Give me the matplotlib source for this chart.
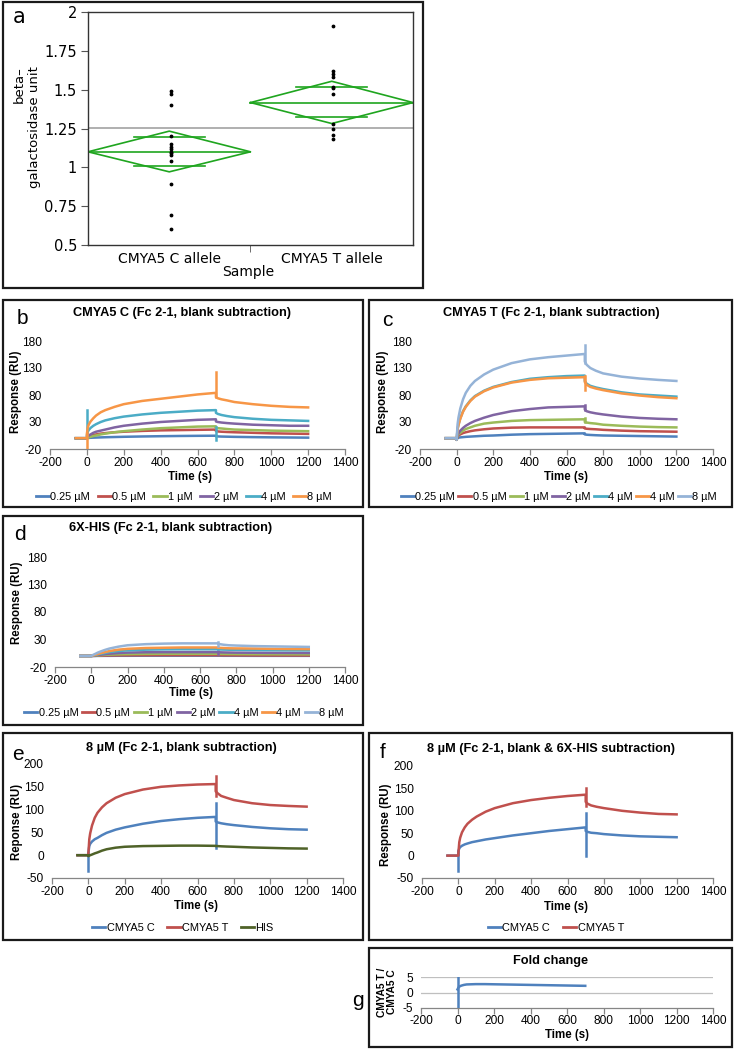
import matplotlib.pyplot as plt
from matplotlib.patches import Rectangle
from matplotlib.lines import Line2D

plt.rcParams['font.family'] = ['Liberation Sans', 'DejaVu Sans']
plt.rcParams['axes.unicode_minus'] = False

W, H = 734, 1050
fig = plt.figure(figsize=(W / 100, H / 100), dpi=100)

# ---------------- data: panel a (beta-galactosidase) ----------------
cats_a = ['CMYA5 C allele', 'CMYA5 T allele']
pts_c = [1.49, 1.47, 1.40, 1.20, 1.15, 1.13, 1.12, 1.10, 1.09, 1.08, 1.04, 0.89, 0.69, 0.60]
pts_t = [1.91, 1.62, 1.60, 1.58, 1.52, 1.51, 1.47, 1.28, 1.25, 1.21, 1.18]
means_a = [1.100, 1.417]
ci_hi_a = [1.233, 1.554]
ci_lo_a = [0.971, 1.282]
ovl_hi_a = [1.196, 1.514]
ovl_lo_a = [1.010, 1.325]
grand_mean = 1.254
yticks_a = [0.5, 0.75, 1, 1.25, 1.5, 1.75, 2]
yticklabels_a = ['0.5', '0.75', '1', '1.25', '1.5', '1.75', '2']

# ---------------- data: sensorgrams ----------------
t_base = [-60, 0]
t_on = [0, 5, 10, 20, 35, 50, 75, 100, 150, 200, 300, 400, 500, 600, 700]
t_off = [700, 710, 730, 760, 800, 900, 1000, 1100, 1200]
xticks_spr = [-200, 0, 200, 400, 600, 800, 1000, 1200, 1400]

# panel b: CMYA5 C
b_labels = ['0.25 µM', '0.5 µM', '1 µM', '2 µM', '4 µM', '8 µM']
b_colors = ['#4F81BD', '#C0504D', '#9BBB59', '#8064A2', '#4BACC6', '#F79646']
b_on = [
    [0, 0.3, 0.5, 0.8, 1, 1.2, 1.5, 1.8, 2.2, 2.6, 3.2, 3.7, 4.1, 4.4, 4.6],
    [0, 2, 3, 4.5, 6, 7, 8.5, 9.5, 11, 12, 13.5, 14.5, 15, 15.5, 16],
    [0, 1, 1.5, 2.5, 4, 5, 7, 8.5, 11, 13, 16, 18.5, 20, 21.5, 22],
    [0, 3, 5, 7, 10, 12, 14, 16, 20, 23, 27, 30, 32, 34, 35],
    [5, 12, 15, 19, 23, 26, 30, 33, 37, 40, 44, 47, 49, 51, 52],
    [8, 20, 25, 31, 37, 42, 48, 52, 58, 63, 69, 73, 77, 81, 84],
]
b_off = [
    [3.5, 3.3, 3, 2.8, 2.5, 2, 1.6, 1.3, 1],
    [13, 12.5, 12, 11.5, 11, 10, 9, 8.5, 8],
    [19, 18.5, 18, 17, 16, 15, 14, 13.5, 13],
    [31, 30, 29, 28, 27, 25, 24, 23, 23],
    [47, 45, 43, 41, 39, 36, 34, 33, 32],
    [76, 74, 72, 70, 67, 63, 60, 58, 57],
]
b_spikes = [(4, 0, 5, 53), (4, 700, -3, 20), (5, 0, -20, 10), (5, 700, 76, 123)]

# panel c: CMYA5 T
c_labels = ['0.25 µM', '0.5 µM', '1 µM', '2 µM', '4 µM', '4 µM', '8 µM']
c_colors = ['#4F81BD', '#C0504D', '#9BBB59', '#8064A2', '#4BACC6', '#F79646', '#95B3D7']
c_on = [
    [-3, 0.5, 1, 1.5, 2, 2.5, 3, 3.5, 4.5, 5, 6.5, 7.5, 8, 8.5, 9],
    [-3, 3, 5, 7, 9.5, 11, 13, 14.5, 16.5, 18, 19.5, 20, 20, 20, 20],
    [-3, 4, 7, 10, 14, 17, 20, 23, 27, 29, 32, 33.5, 34, 34.5, 35],
    [-3, 6, 9, 14, 19, 23, 28, 32, 38, 43, 50, 54, 57, 58, 59],
    [-3, 17, 25, 37, 50, 59, 70, 78, 88, 95, 104, 110, 113, 115, 116],
    [-3, 16, 24, 36, 49, 58, 69, 77, 87, 94, 103, 108, 111, 112, 113],
    [-3, 25, 38, 55, 72, 84, 97, 106, 118, 127, 139, 146, 150, 153, 156],
]
c_off = [
    [7, 6.5, 6, 5.5, 5, 4.5, 4, 3.5, 3],
    [18, 17.5, 17, 16.5, 15.5, 14, 13, 12.5, 12],
    [30, 29, 28, 27, 25, 23, 21.5, 20.5, 20],
    [53, 50, 48, 46, 44, 40, 37.5, 36, 35],
    [106, 101, 97, 94, 91, 85, 81, 79, 77],
    [104, 99, 95, 92, 89, 83, 79, 76, 74],
    [142, 136, 130, 125, 120, 114, 110.5, 108, 106],
]
c_spikes = [(3, 700, 53, 62), (2, 700, 30, 38), (5, 700, 90, 116), (6, 700, 140, 173)]

# panel d: 6X-HIS
d_labels = c_labels
d_colors = c_colors
d_on = [
    [0, 0, 0.1, 0.1, 0.2, 0.2, 0.3, 0.3, 0.4, 0.4, 0.5, 0.5, 0.5, 0.5, 0.5],
    [0, 0.1, 0.2, 0.3, 0.5, 0.6, 0.8, 1, 1.2, 1.3, 1.4, 1.5, 1.5, 1.5, 1.5],
    [0, 0.2, 0.3, 0.6, 1, 1.4, 2, 2.5, 3, 3.4, 3.8, 4, 4, 4, 4],
    [0, 0.3, 0.5, 1, 1.6, 2.3, 3.3, 4.2, 5.4, 6.2, 6.8, 7, 7, 7, 7],
    [0, 0.4, 0.8, 1.5, 2.7, 3.8, 5.4, 7, 9, 10.3, 11.5, 12, 12.2, 12.2, 12.2],
    [0, 0.5, 1, 2, 3.5, 5, 7, 9, 11.5, 13, 14.5, 15, 15.5, 15.5, 15.5],
    [0, 1, 2, 3.5, 6, 8, 11, 13.5, 17, 19.5, 21.5, 22.5, 23, 23, 23],
]
d_off = [
    [0.5, 0.5, 0.4, 0.4, 0.4, 0.3, 0.3, 0.3, 0.3],
    [1.4, 1.4, 1.3, 1.3, 1.2, 1.1, 1, 1, 1],
    [3.9, 3.8, 3.7, 3.6, 3.5, 3.3, 3.2, 3.1, 3],
    [6.8, 6.7, 6.5, 6.3, 6.1, 5.9, 5.7, 5.6, 5.5],
    [12, 11.8, 11.6, 11.4, 11.2, 10.8, 10.5, 10.3, 10.2],
    [15, 14.8, 14.5, 14, 13.8, 13.5, 13, 12.7, 12.5],
    [22, 21.5, 20.5, 19.5, 19, 18, 17.5, 17, 16.5],
]
d_spikes = [(6, 700, 18, 26), (3, 700, 3, 9)]

# panel e: 8 uM, blank subtraction
e_labels = ['CMYA5 C', 'CMYA5 T', 'HIS']
e_colors = ['#4F81BD', '#C0504D', '#4F6228']
e_on = [
    [5, 20, 25, 30, 35, 38, 44, 49, 56, 61, 69, 75, 79, 82, 84],
    [3, 35, 48, 65, 82, 93, 105, 114, 126, 134, 144, 150, 153, 155, 156],
    [-2, -1, 0, 1.5, 4, 6, 10, 13, 16.5, 18.5, 20, 20.5, 21, 21, 20.5],
]
e_off = [
    [74, 72, 70, 68, 66, 62, 59, 57, 56],
    [140, 136, 130, 126, 121, 114, 110, 108, 106.5],
    [20, 20, 19.5, 19, 18.5, 17, 16, 15, 14.5],
]
e_spikes = [(0, 0, -35, 5), (0, 700, 16, 115), (1, 700, 130, 173)]

# panel f: 8 uM, blank & 6X-HIS subtraction
f_labels = ['CMYA5 C', 'CMYA5 T']
f_colors = ['#4F81BD', '#C0504D']
f_on = [
    [10, 16, 19, 22, 25, 27, 30, 32, 36, 39, 45, 50, 55, 59, 63],
    [5, 30, 40, 52, 63, 71, 80, 87, 98, 106, 117, 124, 129, 133, 136],
]
f_off = [
    [55, 53, 51, 50, 48, 45, 43, 42, 41],
    [120, 116, 112, 109, 106, 100, 96, 93, 92],
]
f_spikes = [(0, 0, -35, 10), (0, 700, 0, 95), (1, 700, 110, 152)]

# panel g: fold change
g_on = [1.0, 1.6, 1.9, 2.2, 2.45, 2.6, 2.65, 2.7, 2.7, 2.65, 2.55, 2.45, 2.35, 2.25, 2.15]
g_spike = (0, -5, 5)

FS = 8.6      # tick text
FG = 7.9      # legend text
FT = 9.2      # chart titles
FL = 8.3      # axis titles


# ---------------- helpers ----------------
def px_axes(l, t, r, b):
    return fig.add_axes([l / W, 1 - b / H, (r - l) / W, (b - t) / H])


def frame(l, t, r, b):
    fig.patches.append(Rectangle((l / W, 1 - b / H), (r - l) / W, (b - t) / H,
                                 transform=fig.transFigure, fill=False,
                                 lw=1.6, ec='#1a1a1a'))


def ftext(x, y, s, **kw):
    kw.setdefault('ha', 'center')
    kw.setdefault('va', 'center')
    fig.text(x / W, 1 - y / H, s, **kw)


def excel_axes(ax, ylim, yticks):
    ax.set_xlim(-200, 1400)
    ax.set_xticks(xticks_spr)
    ax.set_ylim(*ylim)
    ax.set_yticks(yticks)
    for s in ['top', 'right', 'left']:
        ax.spines[s].set_visible(False)
    ax.spines['bottom'].set_color('#868686')
    ax.spines['bottom'].set_linewidth(0.9)
    ax.tick_params(axis='x', direction='out', length=4, width=0.9, color='#868686',
                   labelsize=FS, pad=2)
    ax.tick_params(axis='y', length=0, labelsize=FS, pad=6)
    ax.patch.set_alpha(0)


def draw_curves(ax, on, off, colors, spikes, base=0):
    for i, (yon, yoff) in enumerate(zip(on, off)):
        xs = t_base + t_on + t_off
        ys = [base, base] + yon + yoff
        ax.plot(xs, ys, color=colors[i], lw=1.8, solid_joinstyle='round', zorder=2 + i)
    for i, t, lo, hi in spikes:
        ax.plot([t, t], [lo, hi], color=colors[i], lw=1.8, zorder=2 + i)


def legend(ax, labels, colors, x, y, colsp=0.6):
    handles = [Line2D([], [], color=c, lw=2) for c in colors]
    ax.legend(handles, labels, loc='center', bbox_to_anchor=(x / W, 1 - y / H),
              bbox_transform=fig.transFigure, ncol=len(labels), frameon=False,
              fontsize=FG, handlelength=1.2, handletextpad=0.1,
              columnspacing=colsp, borderaxespad=0, borderpad=0)


# ---------------- panel a ----------------
frame(3, 2, 423, 288)
ax = px_axes(88, 12, 413, 245)
ax.set_xlim(0, 2)
ax.set_ylim(0.5, 2)
ax.axhline(grand_mean, color='#9a9a9a', lw=1.1, zorder=1)
for i in range(2):
    m, hi, lo = means_a[i], ci_hi_a[i], ci_lo_a[i]
    ax.plot([i, i + 0.5, i + 1, i + 0.5, i], [m, hi, m, lo, m], color='#1fa51f', lw=1.2)
    ax.plot([i, i + 1], [m, m], color='#1fa51f', lw=1.2)
    ax.plot([i + 0.28, i + 0.72], [ovl_hi_a[i], ovl_hi_a[i]], color='#1fa51f', lw=1.2)
    ax.plot([i + 0.28, i + 0.72], [ovl_lo_a[i], ovl_lo_a[i]], color='#1fa51f', lw=1.2)
ax.scatter([0.51] * len(pts_c), pts_c, s=3, color='black', zorder=5)
ax.scatter([1.51] * len(pts_t), pts_t, s=3, color='black', zorder=5)
ax.set_yticks(yticks_a)
ax.set_yticklabels(yticklabels_a, fontfamily='DejaVu Sans', fontsize=10.5)
ax.set_xticks([0.5, 1.5])
ax.set_xticklabels(cats_a, fontfamily='DejaVu Sans', fontsize=10)
ax.set_xticks([1], minor=True)
ax.tick_params(axis='x', which='major', length=0, pad=5)
ax.tick_params(axis='x', which='minor', length=5, direction='out', color='#555555')
ax.tick_params(axis='y', length=5, direction='out', pad=3, color='#555555')
for s in ax.spines.values():
    s.set_linewidth(1.0)
    s.set_color('#333333')
ftext(19, 17, 'a', fontsize=15, fontfamily='DejaVu Sans')
ftext(27, 127, 'beta–\ngalactosidase unit', rotation=90, fontsize=9.5,
      fontfamily='DejaVu Sans', multialignment='right')
ftext(248, 272, 'Sample', fontsize=10, fontfamily='DejaVu Sans')

# ---------------- panel b ----------------
frame(3, 300, 363, 507)
ax = px_axes(50, 341, 345, 449)
excel_axes(ax, (-20, 180), [-20, 30, 80, 130, 180])
draw_curves(ax, b_on, b_off, b_colors, b_spikes)
ftext(182, 313, 'CMYA5 C (Fc 2-1, blank subtraction)', fontsize=FT, fontweight='bold')
ftext(22, 318, 'b', fontsize=15)
ftext(16, 392, 'Response (RU)', rotation=90, fontsize=FL, fontweight='bold')
ftext(190, 477, 'Time (s)', fontsize=FL, fontweight='bold')
legend(ax, b_labels, b_colors, 184, 497, colsp=0.7)

# ---------------- panel c ----------------
frame(369, 300, 732, 507)
ax = px_axes(420, 341, 713, 449)
excel_axes(ax, (-20, 180), [-20, 30, 80, 130, 180])
draw_curves(ax, c_on, c_off, c_colors, c_spikes)
ftext(551, 313, 'CMYA5 T (Fc 2-1, blank subtraction)', fontsize=FT, fontweight='bold')
ftext(387, 320, 'c', fontsize=15)
ftext(383, 392, 'Response (RU)', rotation=90, fontsize=FL, fontweight='bold')
ftext(566, 477, 'Time (s)', fontsize=FL, fontweight='bold')
legend(ax, c_labels, c_colors, 559, 497, colsp=0.3)

# ---------------- panel d ----------------
frame(3, 516, 363, 725)
ax = px_axes(55, 557, 345, 667)
excel_axes(ax, (-20, 180), [-20, 30, 80, 130, 180])
draw_curves(ax, d_on, d_off, d_colors, d_spikes)
ftext(171, 528, '6X-HIS (Fc 2-1, blank subtraction)', fontsize=FT, fontweight='bold')
ftext(20, 535, 'd', fontsize=15)
ftext(17, 603, 'Response (RU)', rotation=90, fontsize=FL, fontweight='bold')
ftext(191, 693, 'Time (s)', fontsize=FL, fontweight='bold')
legend(ax, d_labels, d_colors, 184, 713, colsp=0.35)

# ---------------- panel e ----------------
frame(3, 733, 363, 940)
ax = px_axes(52, 764, 343, 878)
excel_axes(ax, (-50, 200), [-50, 0, 50, 100, 150, 200])
draw_curves(ax, e_on, e_off, e_colors, e_spikes)
ftext(181, 748, '8 µM (Fc 2-1, blank subtraction)', fontsize=FT, fontweight='bold')
ftext(18, 755, 'e', fontsize=15)
ftext(17, 822, 'Reponse (RU)', rotation=90, fontsize=FL, fontweight='bold')
ftext(196, 906, 'Time (s)', fontsize=FL, fontweight='bold')
legend(ax, e_labels, e_colors, 183, 928, colsp=1.2)

# ---------------- panel f ----------------
frame(369, 733, 732, 940)
ax = px_axes(422, 766, 713, 878)
excel_axes(ax, (-50, 200), [-50, 0, 50, 100, 150, 200])
draw_curves(ax, f_on, f_off, f_colors, f_spikes)
ftext(551, 749, '8 µM (Fc 2-1, blank & 6X-HIS subtraction)', fontsize=FT, fontweight='bold')
ftext(383, 752, 'f', fontsize=15)
ftext(386, 825, 'Response (RU)', rotation=90, fontsize=FL, fontweight='bold')
ftext(566, 907, 'Time (s)', fontsize=FL, fontweight='bold')
legend(ax, f_labels, f_colors, 556, 928, colsp=1.2)

# ---------------- panel g ----------------
frame(369, 948, 732, 1047)
ax = px_axes(421, 977, 713, 1008)
excel_axes(ax, (-5, 5), [-5, 0, 5])
ax.tick_params(axis='x', pad=1)
for yv in [0, 5]:
    ax.axhline(yv, color='#bfbfbf', lw=0.9, zorder=1)
ax.plot(t_on, g_on, color='#4F81BD', lw=1.8, zorder=3)
ax.plot([g_spike[0], g_spike[0]], [g_spike[1], g_spike[2]], color='#4F81BD', lw=1.8, zorder=3)
ftext(551, 961, 'Fold change', fontsize=FT, fontweight='bold')
ftext(358, 1000, 'g', fontsize=15)
ftext(387, 992, 'CMYA5 T /\nCMYA5 C', rotation=90, fontsize=7.4, fontweight='bold',
      linespacing=1.0)
ftext(567, 1035, 'Time (s)', fontsize=FL, fontweight='bold')

fig.savefig('out.png', dpi=100)
